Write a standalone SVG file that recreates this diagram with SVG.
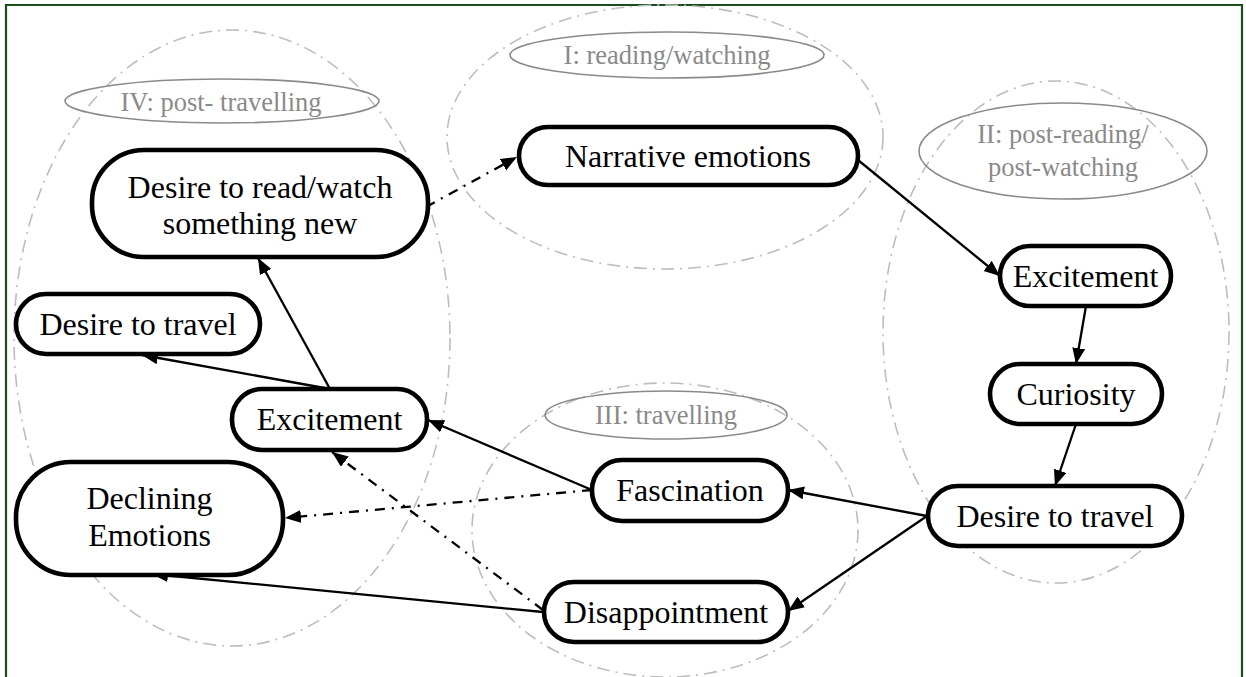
<svg xmlns="http://www.w3.org/2000/svg" width="1246" height="677" viewBox="0 0 1246 677">
<style>
.frame{fill:none;stroke:#1b4d1b;stroke-width:2.2}
.cluster{fill:none;stroke:#bdbdbd;stroke-width:1.6;stroke-dasharray:13 6 2 6}
.lab{fill:none;stroke:#8a8a8a;stroke-width:1.6}
.labt{font-family:"Liberation Serif","Times New Roman",serif;font-size:26.5px;fill:#8a8a8a;text-anchor:middle}
.node rect{fill:#fff;stroke:#000;stroke-width:4.6}
.node text{font-family:"Liberation Serif","Times New Roman",serif;font-size:32px;fill:#000;text-anchor:middle}
.e{fill:none;stroke:#000;stroke-width:2.3;marker-end:url(#ah)}
.dd{stroke-dasharray:10 7 2 7}
</style>
<defs>
<marker id="ah" markerUnits="userSpaceOnUse" markerWidth="17" markerHeight="14" refX="16" refY="6.5" orient="auto">
<path d="M0,0 L16,6.5 L0,13 z" fill="#000" stroke="none"/>
</marker>
</defs>
<rect x="0" y="0" width="1246" height="677" fill="#fff"/>
<path class="frame" d="M6,677 V5 H1242 V677"/>
<g id="clusters">
<g id="cluster-IV"><ellipse class="cluster" cx="232" cy="338" rx="218" ry="308"/><ellipse class="lab" cx="222" cy="101" rx="157" ry="22"/><text class="labt" x="221" y="111">IV: post- travelling</text></g>
<g id="cluster-I"><ellipse class="cluster" cx="665" cy="137" rx="218" ry="132"/><ellipse class="lab" cx="667" cy="55" rx="157" ry="23"/><text class="labt" x="667" y="64">I: reading/watching</text></g>
<g id="cluster-II"><ellipse class="cluster" cx="1056" cy="332" rx="173" ry="251"/><ellipse class="lab" cx="1063" cy="151" rx="144" ry="48"/><text class="labt" x="1063" y="143">II: post-reading/</text><text class="labt" x="1063" y="176">post-watching</text></g>
<g id="cluster-III"><ellipse class="cluster" cx="665" cy="530" rx="193" ry="147"/><ellipse class="lab" cx="666" cy="415" rx="121" ry="24"/><text class="labt" x="666" y="424">III: travelling</text></g>
</g>
<g id="connectors">
<line class="e dd" x1="426" y1="207" x2="517" y2="157"/>
<line class="e" x1="858" y1="160" x2="1000" y2="276"/>
<line class="e" x1="1086" y1="306" x2="1076" y2="364"/>
<line class="e" x1="1076" y1="424" x2="1055" y2="486"/>
<line class="e" x1="927" y1="516" x2="788" y2="490"/>
<line class="e" x1="927" y1="516" x2="788" y2="611"/>
<line class="e" x1="592" y1="490" x2="428" y2="420"/>
<line class="e dd" x1="592" y1="490" x2="285" y2="518"/>
<line class="e dd" x1="543" y1="610" x2="332" y2="452"/>
<line class="e" x1="543" y1="612" x2="152" y2="574"/>
<line class="e" x1="330" y1="389" x2="258" y2="258"/>
<line class="e" x1="330" y1="389" x2="142" y2="355"/>
</g>
<g id="n-narrative" class="node"><rect x="519" y="127" width="339" height="58" rx="29"/><text x="688" y="167">Narrative emotions</text></g>
<g id="n-desire-read" class="node"><rect x="92" y="150" width="336" height="107" rx="52"/><text x="260" y="198">Desire to read/watch</text><text x="260" y="234">something new</text></g>
<g id="n-excitement-2" class="node"><rect x="1000" y="246" width="171" height="60" rx="30"/><text x="1085.5" y="287">Excitement</text></g>
<g id="n-curiosity" class="node"><rect x="990" y="364" width="172" height="60" rx="30"/><text x="1076" y="405">Curiosity</text></g>
<g id="n-desire-travel-2" class="node"><rect x="928" y="486" width="254" height="60" rx="30"/><text x="1055" y="527">Desire to travel</text></g>
<g id="n-fascination" class="node"><rect x="592" y="460" width="196" height="61" rx="30"/><text x="690" y="501">Fascination</text></g>
<g id="n-disappointment" class="node"><rect x="544" y="582" width="244" height="60" rx="30"/><text x="666" y="623">Disappointment</text></g>
<g id="n-desire-travel-4" class="node"><rect x="16" y="294" width="244" height="60" rx="30"/><text x="138" y="335">Desire to travel</text></g>
<g id="n-excitement-4" class="node"><rect x="232" y="389" width="195" height="61" rx="30"/><text x="329.5" y="430">Excitement</text></g>
<g id="n-declining" class="node"><rect x="16" y="462" width="267" height="113" rx="55"/><text x="149.5" y="509">Declining</text><text x="149.5" y="546">Emotions</text></g>
</svg>
